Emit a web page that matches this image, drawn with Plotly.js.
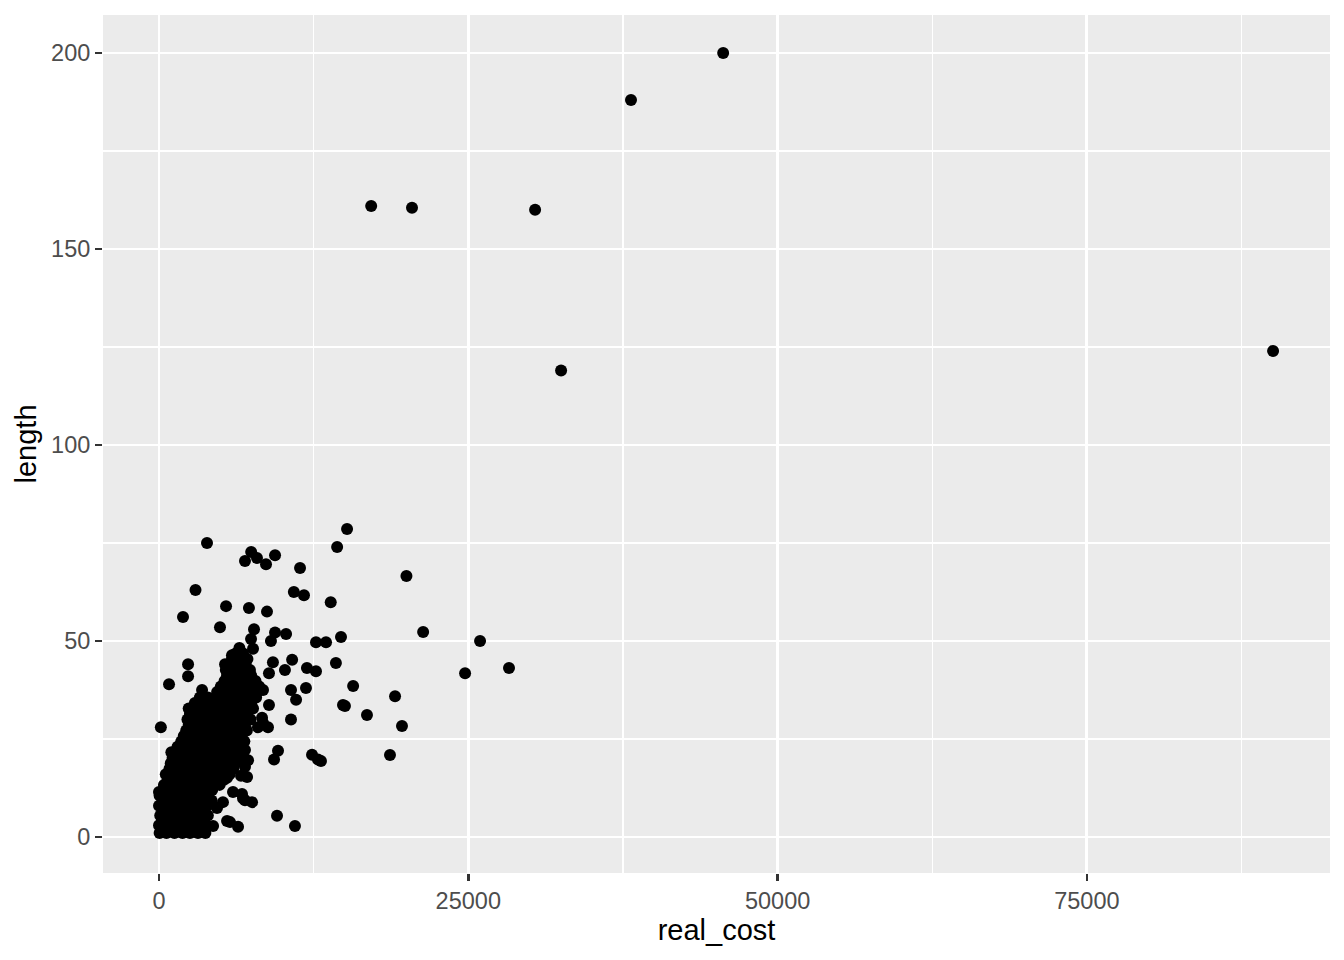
<!DOCTYPE html>
<html><head><meta charset="utf-8">
<script src="https://cdn.plot.ly/plotly-3.0.1.min.js"></script>
<style>html,body{margin:0;padding:0;background:#fff;} #chart{width:1344px;height:960px;}</style>
</head><body><div id="chart"></div>
<script>
// Scattered / clearly visible points
const outlier_cost = [
  45600, 38150, 17150, 20450, 30400, 32500, 90050, 15200, 3880, 14400,
  7450, 9380, 6950, 7920, 8650, 11400, 20000, 2950, 10900, 11720,
  13880, 5420, 7270, 8730, 1940, 4930, 7680, 21350, 9380, 10270,
  14710, 7440, 9050, 25950, 12690, 13500, 7600, 2350, 2350, 14300,
  10760, 11960, 12690, 9210, 10180, 8890, 5340, 5900, 24740, 28290,
  15690, 15030, 16810, 19080, 19640, 18670, 810, 3480, 150, 8890,
  10670, 11080, 11880, 10670, 8410, 8000, 8810, 14870, 9620, 9300,
  12370, 13090, 12850, 9540, 10990, 0, 4370, 5500, 6390, 7520,
  6790, 5980, 5500, 7120, 6630, 7200, 6950, 6790, 6710, 8410,
  7760, 8330, 6950, 6790, 6950, 6710, 6950, 5740, 4690, 5170
];
const outlier_length = [
  200, 188, 161, 160.5, 160, 119, 124, 78.6, 75, 74,
  72.7, 71.9, 70.4, 71.2, 69.6, 68.6, 66.6, 63, 62.5, 61.7,
  59.9, 58.9, 58.4, 57.5, 56.1, 53.5, 53, 52.3, 52.2, 51.8,
  51, 50.5, 50, 50, 49.7, 49.7, 48, 44.1, 41, 44.4,
  45.2, 43.1, 42.3, 44.6, 42.6, 41.8, 44.1, 46.4, 41.8, 43.1,
  38.5, 33.4, 31.1, 35.9, 28.3, 20.9, 39, 37.5, 28, 33.7,
  37.5, 35, 38, 30, 29.1, 28, 28, 33.7, 22, 19.8,
  21, 19.4, 19.8, 5.4, 2.8, 11.5, 2.8, 4.1, 2.6, 8.9,
  9.9, 11.5, 15.1, 15.3, 15.6, 19.6, 22.2, 24.7, 27.3, 37.5,
  35.7, 30.4, 31.1, 20.2, 17.9, 11, 9.4, 3.8, 7.4, 8.9
];

// Dense cluster near the origin, read row by row (length of the row, costs in it)
const cluster_row_length = [
  1.0, 2.0, 3.0, 4.2, 5.5, 6.8, 8.0, 9.3, 10.6, 12.0,
  13.3, 14.6, 16.0, 17.4, 18.8, 20.2, 21.6, 23.0, 24.4, 25.8,
  27.2, 28.6, 30.0, 31.4, 32.8, 34.2, 35.6, 37.0, 38.4, 39.8,
  41.2, 42.6, 44.0, 45.4, 46.8, 48.2
];
const cluster_row_cost = [
  [50, 600, 1250, 1900, 2500, 3150, 3750],
  [300, 900, 1550, 2200, 2850, 3450],
  [0, 650, 1300, 1950, 2600, 3200, 3800],
  [250, 950, 1600, 2250, 2900, 3500],
  [100, 700, 1350, 2000, 2650, 3300, 3950],
  [350, 1000, 1700, 2300, 2950, 3600],
  [0, 650, 1300, 1950, 2600, 3250, 3900],
  [300, 950, 1600, 2250, 2900, 3550, 4250],
  [50, 650, 1300, 1950, 2600, 3200, 3850],
  [350, 1000, 1650, 2300, 2950, 3600, 4300],
  [400, 1050, 1700, 2350, 3000, 3650, 4350, 4900],
  [700, 1350, 2000, 2650, 3300, 3950, 4600, 5250],
  [550, 1200, 1850, 2500, 3150, 3800, 4450, 5100, 5700],
  [850, 1500, 2150, 2800, 3450, 4100, 4750, 5400, 6000],
  [950, 1600, 2250, 2900, 3550, 4200, 4850, 5500, 6150],
  [1100, 1750, 2400, 3050, 3700, 4350, 5000, 5650, 6300],
  [1000, 1650, 2300, 2950, 3600, 4250, 4900, 5550, 6200, 6700],
  [1500, 2150, 2800, 3450, 4100, 4750, 5400, 6050, 6700],
  [1800, 2450, 3100, 3750, 4400, 5050, 5700, 6350, 6900],
  [2000, 2650, 3300, 3950, 4600, 5250, 5900, 6550],
  [2200, 2850, 3500, 4150, 4800, 5450, 6100, 6750, 7100],
  [2400, 3050, 3700, 4350, 5000, 5650, 6300, 6950],
  [2300, 2950, 3600, 4250, 4900, 5550, 6200, 6850, 7400],
  [2500, 3150, 3800, 4450, 5100, 5750, 6400, 7050],
  [2400, 3050, 3700, 4350, 5000, 5650, 6300, 6950, 7600],
  [2900, 3550, 4200, 4850, 5500, 6150, 6800, 7450],
  [3300, 3950, 4600, 5250, 5900, 6550, 7200, 7850],
  [4700, 5350, 6000, 6650, 7300, 7950],
  [5000, 5650, 6300, 6950, 7600, 8100],
  [5300, 5950, 6600, 7250, 7800],
  [5500, 6150, 6800, 7450],
  [5400, 6050, 6700, 7350],
  [5700, 6350, 7000],
  [5900, 6550, 7150],
  [6200, 6800],
  [6500]
];

const x_tick_values = [0, 25000, 50000, 75000];
const x_tick_labels = ['0', '25000', '50000', '75000'];
const x_minor_values = [12500, 37500, 62500, 87500];
const y_tick_values = [0, 50, 100, 150, 200];
const y_tick_labels = ['0', '50', '100', '150', '200'];
const y_minor_values = [25, 75, 125, 175];

const real_cost = outlier_cost.slice();
const length = outlier_length.slice();
cluster_row_cost.forEach((row, i) => {
  row.forEach(c => { real_cost.push(c); length.push(cluster_row_length[i]); });
});

const FONT = 'Liberation Sans, Arial, Helvetica, sans-serif';

const trace = {
  type: 'scatter', mode: 'markers',
  x: real_cost, y: length,
  marker: { color: '#000000', size: 12, line: { width: 0 } },
  hoverinfo: 'skip', showlegend: false
};

const axisCommon = {
  ticks: 'outside', ticklen: 7, tickwidth: 2.7, tickcolor: '#333333',
  tickfont: { family: FONT, size: 23.5, color: '#4D4D4D' },
  showgrid: true, gridcolor: '#FFFFFF', gridwidth: 2.8,
  zeroline: false, showline: false, automargin: false
};

const layout = {
  width: 1344, height: 960,
  margin: { l: 103, r: 14, t: 15, b: 87, pad: 0 },
  paper_bgcolor: '#FFFFFF', plot_bgcolor: '#EBEBEB',
  font: { family: FONT },
  xaxis: Object.assign({}, axisCommon, {
    range: [-4526, 94650], tickmode: 'array',
    tickvals: x_tick_values, ticktext: x_tick_labels,
    minor: { tickmode: 'array', tickvals: x_minor_values, showgrid: true, gridcolor: '#FFFFFF', gridwidth: 1.4, ticks: '' },
    title: { text: 'real_cost', font: { family: FONT, size: 29, color: '#000000' }, standoff: 4 }
  }),
  yaxis: Object.assign({}, axisCommon, {
    range: [-9.18, 209.7], tickmode: 'array',
    tickvals: y_tick_values, ticktext: y_tick_labels,
    minor: { tickmode: 'array', tickvals: y_minor_values, showgrid: true, gridcolor: '#FFFFFF', gridwidth: 1.4, ticks: '' },
    title: { text: 'length', font: { family: FONT, size: 29, color: '#000000' }, standoff: 5 }
  }),
  hovermode: false
};

Plotly.newPlot('chart', [trace], layout, { displayModeBar: false, staticPlot: true });
</script>
</body></html>
